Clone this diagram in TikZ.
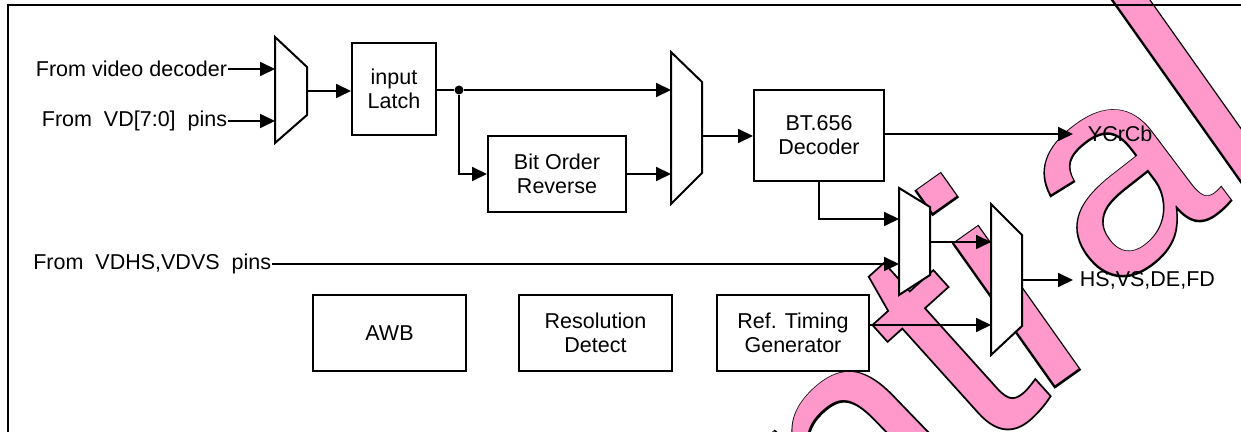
\documentclass[tikz,border=0pt]{standalone}
\usepackage{fontspec}
\setmainfont{Liberation Sans}
\newfontfamily\wmfont{Liberation Sans}
\newfontfamily\wmfontb[FakeBold=1.1]{Liberation Sans}
\usetikzlibrary{arrows.meta,positioning}
\definecolor{wmpink}{RGB}{255,153,204}

\begin{document}
\begin{tikzpicture}
[x=0.5pt,y=-0.5pt,line width=0.9pt,>={Triangle[length=7.5pt,width=7pt]},
 blk/.style = {draw, fill = white, line width = 1pt, align = center, inner sep = 0pt, font = \fontsize{10.75}{12}\selectfont},
 txt/.style = {inner sep = 0pt, font = \fontsize{10.75}{12}\selectfont},
 mux/.style = {draw, fill = white, line width = 1pt},
 wm/.style = {inner sep = 0pt, outer sep = 0pt},]
\clip (0,0) rectangle (1241,432);

\foreach \nm/\ltr/\ang/\sz/\px/\py/\anc in {n/Confiden/44/160/986/463/base east, t/t/42/162.5/985/456/base west, i/i/35.3/165/1037/399/base west, a/a/37/143/1104/297/base west, l/l/35.3/165/1228/201/base west}
{
  \node (wmb\nm) at (\px,\py) [wm, anchor = \anc, rotate = \ang, text = black, font = \wmfontb\fontsize{\sz}{\sz}\selectfont] {\ltr};
  \node (wm\nm) at (\px,\py) [wm, anchor = \anc, rotate = \ang, text = wmpink, font = \wmfont\fontsize{\sz}{\sz}\selectfont] {\ltr};
}

\draw[line width = 1pt] (8,5) rectangle (1300,500);

\node (in1) at (228,69) [txt, anchor = east] {From video decoder};
\node (in2) at (228,121) [txt, anchor = east] {From\ \ VD[7:0]\ \ pins};
\node (vdhs) at (272,264) [txt, anchor = east] {From\ \ VDHS,VDVS\ \ pins};

\node (latch) at (394,89) [blk, minimum width = 42pt, minimum height = 46pt] {input\\Latch};
\node (bor) at (557,174) [blk, minimum width = 69pt, minimum height = 38pt] {Bit Order\\Reverse};
\node (bt) at (819,135.5) [blk, minimum width = 65pt, minimum height = 45.5pt] {BT.656\\Decoder};
\node (awb) at (389.5,333) [blk, minimum width = 76.5pt, minimum height = 38pt] {AWB};
\node (res) at (595.5,333) [blk, minimum width = 76.5pt, minimum height = 38pt] {Resolution\\Detect};
\node (rtg) at (793,333) [blk, minimum width = 76pt, minimum height = 38pt] {Ref. Timing\\Generator};

\node (ycc) at (1073,134) [txt, anchor = west, inner xsep = 7pt] {YCrCb};
\node (hs) at (1073,280) [txt, anchor = west, inner xsep = 3pt] {HS,VS,DE,FD};

\draw[mux] (275,37) -- (307,67) -- (307,115) -- (275,143) -- cycle;
\draw[mux] (671,52) -- (702,82) -- (702,173) -- (671,204) -- cycle;
\draw[mux] (899,188) -- (930,207) -- (930,275) -- (899,295) -- cycle;
\draw[mux] (991,204) -- (1022,235) -- (1022,326) -- (991,355) -- cycle;

\coordinate (m1a) at (275,69);
\coordinate (m1b) at (275,121);
\coordinate (m1o) at (307,91);
\coordinate (m2a) at (671,90);
\coordinate (m2b) at (671,174);
\coordinate (m2o) at (702,136);
\coordinate (m3a) at (899,219);
\coordinate (m3b) at (899,264);
\coordinate (m3o) at (930,242);
\coordinate (m4a) at (991,242);
\coordinate (m4b) at (991,325);
\coordinate (m4o) at (1022,280);

\node (dot) at (459,90) [circle, fill, inner sep = 0pt, minimum size = 4.5pt] {};

\draw[->] (in1.east) -- (m1a);
\draw[->] (in2.east) -- (m1b);
\draw[->] (m1o) -- (latch.west |- m1o);
\draw (latch.east |- dot) -- (dot);
\draw[->] (dot) -- (m2a);
\draw[->] (dot) |- (bor.west);
\draw[->] (bor.east) -- (m2b);
\draw[->] (m2o) -- (bt.west |- m2o);
\draw[->] (bt.east |- ycc.west) -- (ycc.west);
\draw[->] (bt.south) |- (m3a);
\draw[->] (vdhs.east) -- (m3b);
\draw[->] (m3o) -- (m4a);
\draw[->] (rtg.east |- m4b) -- (m4b);
\draw[->] (m4o) -- (hs.west);
\end{tikzpicture}
\end{document}
